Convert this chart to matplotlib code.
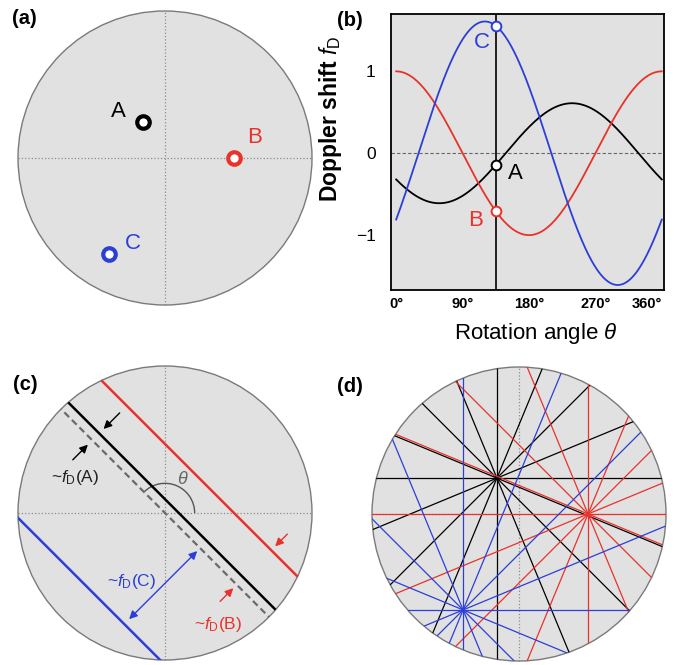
import numpy as np
import matplotlib
matplotlib.use('Agg')
import matplotlib.pyplot as plt
from matplotlib.patches import Circle, Arc
from matplotlib.transforms import ScaledTranslation

plt.rcParams['font.family'] = ['Liberation Sans', 'DejaVu Sans']
plt.rcParams['mathtext.fontset'] = 'custom'
plt.rcParams['mathtext.rm'] = 'Liberation Sans'
plt.rcParams['mathtext.it'] = 'Liberation Sans:italic'
plt.rcParams['mathtext.bf'] = 'Liberation Sans:bold'

# scatterer positions (unit = Doppler amplitude of B)
names = ['A', 'B', 'C']
xs = [-0.32, 1.00, -0.81]
ys = [0.52, 0.00, -1.39]
colors = ['black', '#e8322a', '#2c3ed8']

theta_now = 135                     # angle marked in (b) and drawn in (c)
fan_angles = [0, 22.5, 45, 67.5, 90, 112.5, 135, 157.5]   # lines in (d)
xtick_vals = [0, 90, 180, 270, 360]
xtick_labels = ['0°', '90°', '180°', '270°', '360°']
ytick_vals = [-1, 0, 1]
ytick_labels = ['\u22121', '0', '1']

rad = 2.13          # disk radius in the same units
bg = '#e1e1e1'
edge = '#7a7a7a'
W, H = 675, 665

fig = plt.figure(figsize=(6.75, 6.65), dpi=100)


def disk_axes(cx, cy, half=150):
    ax = fig.add_axes([(cx - half) / W, (H - cy - half) / H, 2 * half / W, 2 * half / H])
    lim = rad * half / 147
    ax.set_xlim(-lim, lim)
    ax.set_ylim(-lim, lim)
    ax.axis('off')
    disk = Circle((0, 0), rad, fc=bg, ec=edge, lw=1.0, zorder=0)
    ax.add_patch(disk)
    ax.plot([-rad, rad], [0, 0], ls=':', color='#8c8c8c', lw=0.9, zorder=1)
    ax.plot([0, 0], [-rad, rad], ls=':', color='#8c8c8c', lw=0.9, zorder=1)
    return ax, disk


def chord(ax, disk, px, py, ang, **kw):
    a = np.deg2rad(ang)
    L = 3 * rad
    ln, = ax.plot([px - L * np.cos(a), px + L * np.cos(a)],
                  [py - L * np.sin(a), py + L * np.sin(a)], **kw)
    ln.set_clip_path(disk)
    return ln


# ---------- (a) positions ----------
axa, diska = disk_axes(165, 158)
for x, y, c in zip(xs, ys, colors):
    axa.plot(x, y, 'o', ms=9, mfc='white', mec=c, mew=3.0, zorder=3)
axa.text(-0.67, 0.67, 'A', color=colors[0], fontsize=16, ha='center', va='center')
axa.text(1.30, 0.29, 'B', color=colors[1], fontsize=16, ha='center', va='center')
axa.text(-0.47, -1.24, 'C', color=colors[2], fontsize=16, ha='center', va='center')

# ---------- (b) Doppler shift vs rotation angle ----------
axb = fig.add_axes([391 / W, (H - 290) / H, 273 / W, 276 / H])
axb.set_facecolor(bg)
th = np.linspace(0, 360, 721)
t = np.deg2rad(th)
tn = np.deg2rad(theta_now)
for x, y, c in zip(xs, ys, colors):
    axb.plot(th, x * np.cos(t) - y * np.sin(t), color=c, lw=1.3, zorder=2)
axb.axhline(0, color='#666666', lw=0.8, ls=(0, (3, 2)), zorder=1)
axb.axvline(theta_now, color='black', lw=1.2, zorder=1)
for x, y, c in zip(xs, ys, colors):
    axb.plot(theta_now, x * np.cos(tn) - y * np.sin(tn), 'o', ms=7, mfc='white',
             mec=c, mew=1.4, zorder=4)
axb.text(116, 1.35, 'C', color=colors[2], fontsize=16, ha='center', va='center')
axb.text(162, -0.245, 'A', color=colors[0], fontsize=16, ha='center', va='center')
axb.text(108, -0.82, 'B', color=colors[1], fontsize=16, ha='center', va='center')
axb.set_xlim(-7, 363)
axb.set_ylim(-1.67, 1.70)
axb.set_xticks(xtick_vals)
axb.set_xticklabels(xtick_labels, fontweight='bold', fontsize=10.5)
last = axb.get_xticklabels()[-1]
last.set_ha('right')
last.set_transform(last.get_transform() + ScaledTranslation(9 / 100, 0, fig.dpi_scale_trans))
axb.set_yticks(ytick_vals)
axb.set_yticklabels(ytick_labels, fontsize=12.5)
axb.tick_params(axis='x', length=0, pad=5)
axb.tick_params(axis='y', length=0, pad=11)
for sp in axb.spines.values():
    sp.set_linewidth(1.3)
axb.set_ylabel(r'Doppler shift $f_\mathrm{D}$', fontsize=16.5, fontweight='bold')
axb.yaxis.set_label_coords(-0.172, 0.62)
axb.set_xlabel(r'Rotation angle $\theta$', fontsize=16)
axb.xaxis.label.set_va('center')
axb.xaxis.set_label_coords(0.53, -0.156)

# ---------- (c) projection lines at theta_now ----------
axc, diskc = disk_axes(165, 513)
u = np.array([np.cos(tn), np.sin(tn)])
n = np.array([np.cos(tn - np.pi / 2), np.sin(tn - np.pi / 2)])
svals = [x * n[0] + y * n[1] for x, y in zip(xs, ys)]
chord(axc, diskc, 0, 0, theta_now, color='#6a6a6a', lw=1.6, ls=(0, (3, 1.8)), zorder=2)
for x, y, c in zip(xs, ys, colors):
    chord(axc, diskc, x, y, theta_now, color=c, lw=1.8, zorder=3)
axc.add_patch(Arc((0, 0), 0.86, 0.86, theta1=0, theta2=theta_now, color='#555555', lw=1.0))
axc.text(0.26, 0.49, r'$\theta$', color='#666666', fontsize=13, ha='center', va='center')


def pt(tt, ss):
    return tt * u + ss * n


def arrow(ax, tt, s0, s1, c, style='-|>'):
    ax.annotate('', xy=pt(tt, s1), xytext=pt(tt, s0),
                arrowprops=dict(arrowstyle=style, color=c, lw=1.0, mutation_scale=12,
                                shrinkA=0, shrinkB=0), zorder=4)


sA, sB, sC = svals
arrow(axc, 1.49, sA + 0.42, sA + 0.09, colors[0])
arrow(axc, 1.49, -0.40, -0.09, colors[0])
arrow(axc, -1.47, sB + 0.33, sB + 0.08, colors[1])
arrow(axc, -1.47, -0.34, -0.07, colors[1])
arrow(axc, -0.72, sC + 0.10, -0.06, colors[2], style='<|-|>')
axc.text(-1.30, 0.52, r'~$f_\mathrm{D}$(A)', color='#222222', fontsize=12.5, ha='center', va='center')
axc.text(0.77, -1.62, r'~$f_\mathrm{D}$(B)', color=colors[1], fontsize=12.5, ha='center', va='center')
axc.text(-0.48, -0.99, r'~$f_\mathrm{D}$(C)', color=colors[2], fontsize=12.5, ha='center', va='center')

# ---------- (d) fan of lines through each scatterer ----------
axd, diskd = disk_axes(519, 514)
for x, y, c in zip(xs, ys, colors):
    for ang in fan_angles:
        chord(axd, diskd, x, y, ang, color=c, lw=0.9, zorder=2)

# panel labels
for lab, px, py in [('(a)', 12, 18), ('(b)', 337, 21), ('(c)', 13, 385), ('(d)', 337, 387)]:
    fig.text(px / W, 1 - py / H, lab, fontsize=14.5, fontweight='bold', ha='left', va='center')

fig.savefig('out.png', dpi=100)
